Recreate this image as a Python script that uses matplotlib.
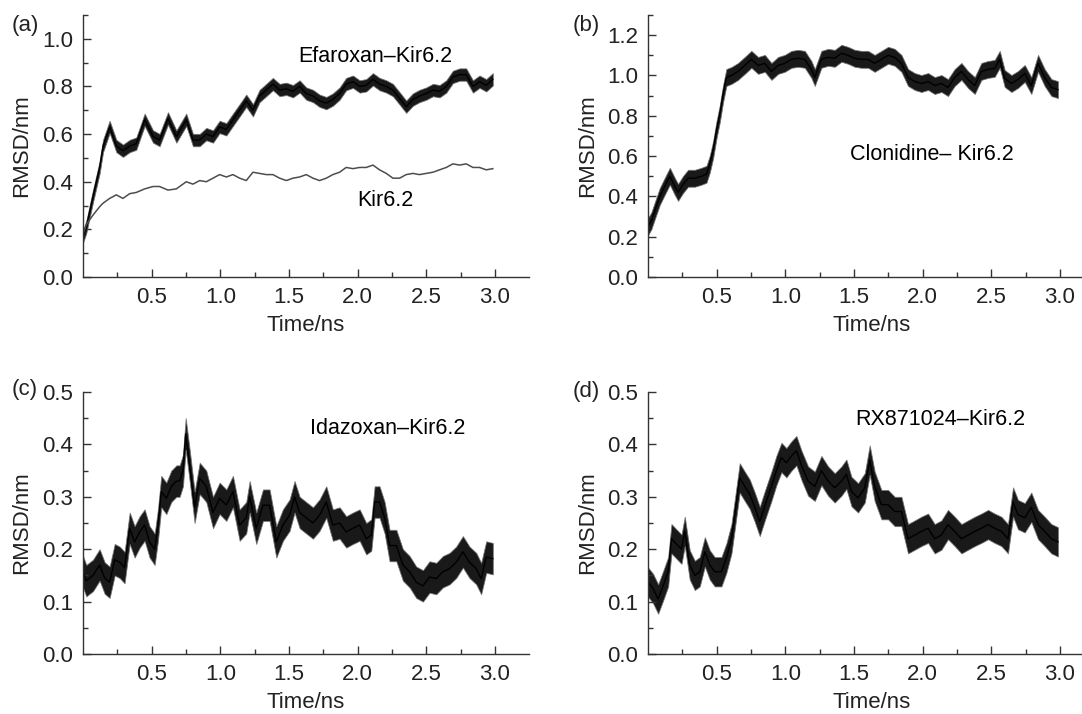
import matplotlib
matplotlib.use("Agg")
import matplotlib.pyplot as plt
from matplotlib.ticker import FixedLocator, MultipleLocator

plt.rcParams['font.family'] = ['Liberation Sans', 'DejaVu Sans']

# (a) Efaroxan-Kir6.2 and Kir6.2, shared time grid (ns)
t_a = [0.0, 0.024, 0.073, 0.121, 0.146, 0.194, 0.243, 0.291, 0.340, 0.388,
       0.449, 0.510, 0.558, 0.619, 0.680, 0.752, 0.801, 0.850, 0.898, 0.947,
       0.995, 1.044, 1.092, 1.141, 1.189, 1.238, 1.286, 1.335, 1.383, 1.432,
       1.481, 1.529, 1.578, 1.626, 1.675, 1.723, 1.772, 1.820, 1.869, 1.917,
       1.966, 2.015, 2.063, 2.112, 2.160, 2.209, 2.257, 2.306, 2.354, 2.403,
       2.451, 2.500, 2.549, 2.597, 2.646, 2.694, 2.743, 2.791, 2.840, 2.888,
       2.937, 2.985]
efaroxan = [0.17, 0.21, 0.34, 0.46, 0.55, 0.63, 0.55, 0.53, 0.55, 0.56,
            0.66, 0.59, 0.575, 0.666, 0.59, 0.66, 0.575, 0.575, 0.60, 0.59,
            0.63, 0.62, 0.66, 0.70, 0.74, 0.70, 0.76, 0.785, 0.81, 0.785,
            0.79, 0.78, 0.80, 0.77, 0.76, 0.74, 0.73, 0.745, 0.77, 0.81,
            0.82, 0.80, 0.805, 0.83, 0.81, 0.80, 0.785, 0.75, 0.715, 0.745,
            0.76, 0.77, 0.785, 0.78, 0.80, 0.84, 0.85, 0.85, 0.80, 0.82,
            0.805, 0.83]
kir = [0.18, 0.22, 0.26, 0.295, 0.31, 0.33, 0.345, 0.33, 0.35, 0.355,
       0.37, 0.38, 0.38, 0.365, 0.37, 0.40, 0.39, 0.405, 0.40, 0.415,
       0.43, 0.42, 0.43, 0.415, 0.405, 0.44, 0.435, 0.43, 0.43, 0.415,
       0.405, 0.415, 0.42, 0.43, 0.415, 0.405, 0.415, 0.43, 0.44, 0.46,
       0.455, 0.46, 0.46, 0.47, 0.45, 0.435, 0.415, 0.415, 0.43, 0.435,
       0.43, 0.435, 0.44, 0.45, 0.46, 0.475, 0.47, 0.475, 0.46, 0.46,
       0.45, 0.455]

# (b) Clonidine-Kir6.2
t_b = [0.0, 0.024, 0.049, 0.085, 0.121, 0.158, 0.194, 0.218, 0.255, 0.291,
       0.340, 0.388, 0.425, 0.449, 0.473, 0.498, 0.522, 0.546, 0.570, 0.607,
       0.655, 0.704, 0.752, 0.801, 0.850, 0.898, 0.947, 0.995, 1.044, 1.092,
       1.141, 1.189, 1.214, 1.262, 1.311, 1.359, 1.408, 1.456, 1.505, 1.553,
       1.602, 1.650, 1.699, 1.748, 1.796, 1.845, 1.893, 1.942, 1.990, 2.039,
       2.087, 2.136, 2.184, 2.233, 2.282, 2.330, 2.379, 2.427, 2.476, 2.524,
       2.561, 2.597, 2.646, 2.694, 2.743, 2.791, 2.840, 2.888, 2.937, 2.985]
clonidine = [0.25, 0.28, 0.33, 0.40, 0.45, 0.50, 0.45, 0.42, 0.46, 0.49,
             0.49, 0.50, 0.51, 0.56, 0.63, 0.73, 0.81, 0.91, 0.99, 1.00,
             1.02, 1.05, 1.08, 1.05, 1.06, 1.02, 1.05, 1.06, 1.08, 1.085,
             1.08, 1.03, 0.99, 1.08, 1.09, 1.085, 1.11, 1.10, 1.085, 1.08,
             1.08, 1.06, 1.08, 1.10, 1.09, 1.06, 0.99, 0.97, 0.96, 0.97,
             0.95, 0.96, 0.94, 0.99, 1.02, 0.98, 0.95, 1.02, 1.03, 1.035,
             1.08, 0.985, 0.96, 0.98, 1.01, 0.95, 1.06, 0.99, 0.94, 0.93]

# (c) Idazoxan-Kir6.2
t_c = [0.0, 0.024, 0.073, 0.121, 0.158, 0.194, 0.231, 0.267, 0.303, 0.340,
       0.376, 0.413, 0.449, 0.485, 0.522, 0.546, 0.570, 0.607, 0.643, 0.680,
       0.704, 0.728, 0.748, 0.777, 0.813, 0.850, 0.898, 0.947, 0.995, 1.044,
       1.092, 1.141, 1.189, 1.214, 1.262, 1.311, 1.359, 1.408, 1.456, 1.505,
       1.541, 1.578, 1.626, 1.675, 1.723, 1.772, 1.820, 1.869, 1.917, 1.966,
       2.015, 2.063, 2.100, 2.124, 2.160, 2.197, 2.233, 2.282, 2.330, 2.379,
       2.427, 2.476, 2.524, 2.573, 2.621, 2.670, 2.718, 2.767, 2.815, 2.864,
       2.900, 2.937, 2.985]
idazoxan = [0.157, 0.14, 0.15, 0.17, 0.145, 0.137, 0.18, 0.175, 0.165, 0.24,
            0.214, 0.233, 0.246, 0.214, 0.20, 0.246, 0.31, 0.297, 0.32, 0.33,
            0.33, 0.35, 0.42, 0.36, 0.28, 0.335, 0.32, 0.27, 0.297, 0.284,
            0.31, 0.246, 0.26, 0.30, 0.24, 0.284, 0.284, 0.214, 0.246, 0.265,
            0.30, 0.27, 0.26, 0.25, 0.265, 0.29, 0.246, 0.25, 0.233, 0.24,
            0.246, 0.22, 0.227, 0.29, 0.29, 0.26, 0.207, 0.207, 0.17, 0.157,
            0.137, 0.13, 0.147, 0.144, 0.157, 0.163, 0.175, 0.195, 0.175, 0.163,
            0.144, 0.185, 0.182]

# (d) RX871024-Kir6.2
t_d = [0.0, 0.036, 0.073, 0.109, 0.146, 0.170, 0.206, 0.243, 0.267, 0.303,
       0.340, 0.376, 0.413, 0.449, 0.485, 0.534, 0.570, 0.607, 0.631, 0.667,
       0.704, 0.740, 0.777, 0.813, 0.850, 0.898, 0.934, 0.971, 1.007, 1.044,
       1.080, 1.117, 1.165, 1.214, 1.262, 1.311, 1.359, 1.408, 1.444, 1.481,
       1.529, 1.578, 1.614, 1.650, 1.699, 1.748, 1.796, 1.845, 1.893, 1.942,
       1.990, 2.039, 2.087, 2.136, 2.184, 2.233, 2.282, 2.330, 2.379, 2.427,
       2.476, 2.524, 2.573, 2.621, 2.658, 2.694, 2.743, 2.791, 2.840, 2.888,
       2.937, 2.985]
rx871024 = [0.137, 0.125, 0.105, 0.13, 0.157, 0.22, 0.21, 0.20, 0.234, 0.17,
            0.15, 0.157, 0.195, 0.17, 0.157, 0.157, 0.183, 0.22, 0.266, 0.336,
            0.32, 0.305, 0.28, 0.253, 0.283, 0.32, 0.35, 0.375, 0.365, 0.378,
            0.388, 0.36, 0.33, 0.32, 0.35, 0.33, 0.317, 0.33, 0.343, 0.31,
            0.298, 0.317, 0.37, 0.32, 0.285, 0.285, 0.272, 0.272, 0.22, 0.227,
            0.234, 0.24, 0.22, 0.227, 0.247, 0.234, 0.22, 0.227, 0.234, 0.24,
            0.247, 0.24, 0.234, 0.22, 0.29, 0.266, 0.26, 0.28, 0.247, 0.234,
            0.22, 0.214]

# half-width of the fluctuation band seen around each trace (nm)
spread_efaroxan = 0.026
spread_clonidine = 0.042
spread_idazoxan = 0.03
spread_rx = 0.028


def rmsd_panel(ax, ymax, major, minor):
    ax.set_xlim(0, 3.25)
    ax.set_ylim(0, ymax)
    ax.xaxis.set_major_locator(FixedLocator([0.5, 1.0, 1.5, 2.0, 2.5, 3.0]))
    ax.xaxis.set_minor_locator(FixedLocator([0.25, 0.75, 1.25, 1.75, 2.25, 2.75]))
    ax.yaxis.set_major_locator(MultipleLocator(major))
    ax.yaxis.set_minor_locator(MultipleLocator(minor))
    ax.xaxis.set_major_formatter('{x:.1f}')
    ax.yaxis.set_major_formatter('{x:.1f}')
    for side in ('top', 'right'):
        ax.spines[side].set_visible(False)
    for side in ('left', 'bottom'):
        ax.spines[side].set_color('#333333')
        ax.spines[side].set_linewidth(1.0)
    ax.tick_params(which='both', direction='in', colors='#333333',
                   labelcolor='#222222', labelsize=16)
    ax.tick_params(which='major', length=6, width=1.0)
    ax.tick_params(which='minor', length=3.5, width=1.0)
    ax.tick_params(axis='x', which='major', pad=7)
    ax.tick_params(axis='y', which='major', pad=7)
    ax.set_xlabel('Time/ns', fontsize=16, color='#222222', labelpad=5)
    ax.set_ylabel('RMSD/nm', fontsize=16, color='#222222', labelpad=7)


def trace(ax, t, y, spread):
    lo = [v - spread for v in y]
    hi = [v + spread for v in y]
    ax.fill_between(t, lo, hi, color='black', linewidth=0.6,
                    edgecolor='0.45', alpha=0.9)
    ax.plot(t, y, color='black', linewidth=1.0)


fig = plt.figure(figsize=(10.82, 7.14), dpi=100)
w, h = 0.4124, 0.367
ax_a = fig.add_axes([0.0767, 0.612, w, h])
ax_b = fig.add_axes([0.599, 0.612, w, h])
ax_c = fig.add_axes([0.0767, 0.084, w, h])
ax_d = fig.add_axes([0.599, 0.084, w, h])

rmsd_panel(ax_a, 1.1, 0.2, 0.1)
trace(ax_a, t_a, efaroxan, spread_efaroxan)
ax_a.plot(t_a, kir, color='0.3', linewidth=1.1)
ax_a.text(2.13, 0.925, 'Efaroxan\u2013Kir6.2', ha='center', va='center', fontsize=15.5)
ax_a.text(2.2, 0.32, 'Kir6.2', ha='center', va='center', fontsize=15.5)

rmsd_panel(ax_b, 1.3, 0.2, 0.1)
trace(ax_b, t_b, clonidine, spread_clonidine)
ax_b.text(2.07, 0.61, 'Clonidine\u2013 Kir6.2', ha='center', va='center', fontsize=15.5)

rmsd_panel(ax_c, 0.5, 0.1, 0.05)
trace(ax_c, t_c, idazoxan, spread_idazoxan)
ax_c.text(2.22, 0.43, 'Idazoxan\u2013Kir6.2', ha='center', va='center', fontsize=15.5)

rmsd_panel(ax_d, 0.5, 0.1, 0.05)
trace(ax_d, t_d, rx871024, spread_rx)
ax_d.text(2.13, 0.448, 'RX871024\u2013Kir6.2', ha='center', va='center', fontsize=15.5)

for label, x, y in (('(a)', 0.011, 0.964), ('(b)', 0.529, 0.964),
                    ('(c)', 0.011, 0.454), ('(d)', 0.529, 0.451)):
    fig.text(x, y, label, ha='left', va='center', fontsize=16, color='#222222')

fig.savefig('out.png', dpi=100)
